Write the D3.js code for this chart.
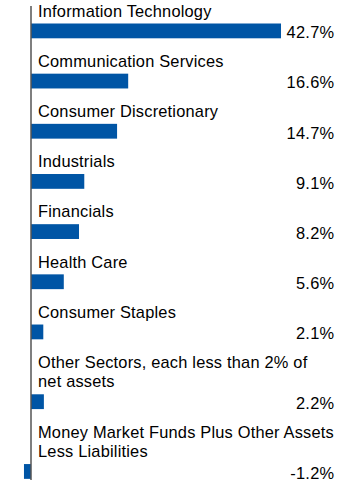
<!DOCTYPE html>
<html>
<head>
<meta charset="utf-8">
<script src="https://cdn.jsdelivr.net/npm/d3@7"></script>
<style>
  html, body { margin: 0; padding: 0; background: #fff; }
  svg { display: block; }
  text { font-family: "Liberation Sans", Arial, sans-serif; fill: #000; }
</style>
</head>
<body>
<script>
const categories = [
  "Information Technology",
  "Communication Services",
  "Consumer Discretionary",
  "Industrials",
  "Financials",
  "Health Care",
  "Consumer Staples",
  "Other Sectors, each less than 2% of\nnet assets",
  "Money Market Funds Plus Other Assets\nLess Liabilities"
];
const values = [42.7, 16.6, 14.7, 9.1, 8.2, 5.6, 2.1, 2.2, -1.2];
const valueLabels = ["42.7%", "16.6%", "14.7%", "9.1%", "8.2%", "5.6%", "2.1%", "2.2%", "-1.2%"];

(function () {
const W = 360, H = 487;
const svg = d3.select("body").append("svg").attr("width", W).attr("height", H);

const x = d3.scaleLinear().domain([0, 50]).range([31, 31 + 292.75]);

const barH = 14.8;
const step = 50.17, lineH = 19.6, labelGap = 6.8;
const rows = [];
let barTop = 23.5;
categories.forEach((c, i) => {
  const lines = c.split("\n");
  if (i > 0) barTop += step + lineH * (lines.length - 1);
  rows.push({ lines, value: values[i], label: valueLabels[i], top: barTop });
});

const g = svg.append("g");

rows.forEach(r => {
  const first = r.top - labelGap - lineH * (r.lines.length - 1);
  const t = g.append("text").attr("x", 38).attr("font-size", 16.4)
    .attr("letter-spacing", 0.2);
  r.lines.forEach((ln, j) => {
    t.append("tspan").attr("x", 38).attr("y", first + j * lineH).text(ln);
  });
  g.append("rect")
    .attr("x", Math.min(x(0), x(r.value)))
    .attr("y", r.top)
    .attr("width", Math.abs(x(r.value) - x(0)))
    .attr("height", barH)
    .attr("fill", "#0055a5");
  g.append("text")
    .attr("x", 334.5)
    .attr("y", r.top + barH)
    .attr("text-anchor", "end")
    .attr("font-size", 16.4)
    .attr("letter-spacing", 0.3)
    .text(r.label);
});

svg.append("line")
  .attr("x1", x(0)).attr("x2", x(0))
  .attr("y1", 6).attr("y2", 480)
  .attr("stroke", "#555").attr("stroke-width", 1.5);
})();
</script>
</body>
</html>
